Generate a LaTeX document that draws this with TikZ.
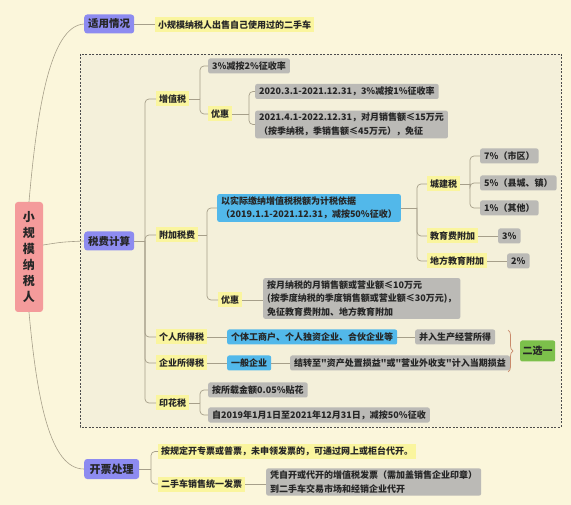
\documentclass[tikz,border=0pt]{standalone}
\usepackage{fontspec}
\setmainfont{Noto Sans CJK SC}[Ligatures=TeXOff]
\usetikzlibrary{decorations.pathreplacing}
\definecolor{bgc}{HTML}{FBF6DB}
\definecolor{framefill}{HTML}{F4F0DA}
\definecolor{yel}{HTML}{FAF59E}
\definecolor{gry}{HTML}{BBBAB6}
\definecolor{blu}{HTML}{52B8EA}
\definecolor{pur}{HTML}{8D8BF0}
\definecolor{pnk}{HTML}{F49B9B}
\definecolor{grn}{HTML}{7CC04B}
\definecolor{linec}{HTML}{A69F8A}
\definecolor{bracec}{HTML}{C98A6B}
\tikzset{
  conn/.style={draw=linec, line width=0.7pt, rounded corners=4pt},
  curv/.style={draw=linec, line width=0.6pt},
  base/.style={font=\bfseries\fontsize{9}{13.5}\selectfont, text=black!85, inner ysep=2.5pt, minimum height=15pt, anchor=west, align=left},
  yel/.style={base, fill=yel, inner xsep=3pt},
  gry/.style={base, fill=gry, rounded corners=2pt, inner xsep=4pt},
  blu/.style={base, fill=blu, rounded corners=2pt, inner xsep=4pt},
  lvl/.style={fill=pur, rounded corners=3pt, font=\bfseries\fontsize{10.5}{12}\selectfont, text=black!85, minimum height=19pt, minimum width=50pt, inner xsep=3pt, anchor=west},
}
\begin{document}
\begin{tikzpicture}[x=1pt,y=-1pt]
\fill[bgc] (0,0) rectangle (571,505);
\useasboundingbox (0,0) rectangle (571,505);
\draw[dashed, fill=framefill, draw=black!70, line width=0.6pt, dash pattern=on 2pt off 1.5pt] (80,54) rectangle (561,427);

% root
\node[fill=pnk, rounded corners=3pt, minimum width=28pt, minimum height=110pt, inner sep=0pt,
  font=\bfseries\fontsize{12}{16}\selectfont, align=center, text=black!85] (root) at (29,257) {小\\规\\模\\纳\\税\\人};

% level 1
\node[lvl] (sy) at (84,24) {适用情况};
\node[lvl] (sf) at (84,241) {税费计算};
\node[lvl, minimum width=55pt, minimum height=20pt, font=\bfseries\fontsize{11}{12}\selectfont] (kp) at (84,469) {开票处理};

\draw[curv] (root.north) .. controls (37,110) and (50,26) .. (sy.west);
\draw[curv] (root.south) .. controls (37,400) and (50,469) .. (kp.west);
\draw[curv] ([yshift=12pt]root.east) .. controls (62,242) .. (sf.west);

% 适用情况
\node[yel] (syl) at (155,25) {小规模纳税人出售自己使用过的二手车};
\draw[conn] (sy.east) -- (syl.west |- sy.east);

% 税费计算 trunk
\coordinate (b1) at (145,241);
\node[yel] (zzs) at (156,99) {增值税};
\node[yel] (fj) at (156,235) {附加税费};
\node[yel] (gs) at (156,337) {个人所得税};
\node[yel] (qs) at (156,363) {企业所得税};
\node[yel] (yh) at (156,403) {印花税};
\draw[conn] (sf.east) -- (b1);
\foreach \c in {zzs,fj,gs,qs,yh} \draw[conn] (b1) |- (\c.west);

% 增值税
\coordinate (b2) at (200,99);
\node[gry] (g1) at (208,66) {3\%减按2\%征收率};
\node[yel] (yh1) at (208,114) {优惠};
\draw[conn] (zzs.east) -- (b2);
\foreach \c in {g1,yh1} \draw[conn] (b2) |- (\c.west);
\coordinate (b3) at (249,114);
\node[gry] (g2) at (255,91.5) {2020.3.1-2021.12.31，3\%减按1\%征收率};
\node[gry] (g3) at (255,124.5) {2021.4.1-2022.12.31，对月销售额≤15万元\\（按季纳税，季销售额≤45万元），免征};
\draw[conn] (yh1.east) -- (b3);
\foreach \c in {g2,g3} \draw[conn] (b3) |- (\c.west);

% 附加税费
\coordinate (b4) at (207,235);
\node[blu] (bl1) at (217,208) {以实际缴纳增值税税额为计税依据\\（2019.1.1-2021.12.31，减按50\%征收）};
\node[yel] (yh2) at (218,300) {优惠};
\draw[conn] (fj.east) -- (b4);
\foreach \c in {bl1,yh2} \draw[conn] (b4) |- (\c.west);
\node[gry] (g4) at (263,298.5) {按月纳税的月销售额或营业额≤10万元\\(按季度纳税的季度销售额或营业额≤30万元)，\\免征教育费附加、地方教育附加};
\draw[conn] (yh2.east) -- (g4.west |- yh2.east);

\coordinate (b5) at (417,208);
\node[yel] (cj) at (427,184) {城建税};
\node[yel] (jy) at (427,236) {教育费附加};
\node[yel] (df) at (427,261) {地方教育附加};
\draw[conn] (bl1.east) -- (b5);
\foreach \c in {cj,jy,df} \draw[conn] (b5) |- (\c.west);

\coordinate (b6) at (470,184);
\node[gry] (g5) at (480,156) {7\%（市区）};
\node[gry] (g6) at (480,183) {5\%（县城、镇）};
\node[gry] (g7) at (480,208) {1\%（其他）};
\draw[conn] (cj.east) -- (b6);
\foreach \c in {g5,g6,g7} \draw[conn] (b6) |- (\c.west);
\node[gry] (p3) at (498,236) {3\%};
\node[gry] (p2) at (507,261) {2\%};
\draw[conn] (jy.east) -- (p3.west |- jy.east);
\draw[conn] (df.east) -- (p2.west |- df.east);

% 所得税
\node[blu] (bl2) at (227,337) {个体工商户、个人独资企业、合伙企业等};
\node[gry] (g8) at (415,337) {并入生产经营所得};
\draw[conn] (gs.east) -- (bl2.west);
\draw[conn] (bl2.east) -- (g8.west);
\node[blu] (bl3) at (227,363) {一般企业};
\node[gry] (g9) at (290,363) {结转至"资产处置损益"或"营业外收支"计入当期损益};
\draw[conn] (qs.east) -- (bl3.west);
\draw[conn] (bl3.east) -- (g9.west);
\coordinate (brt) at (508,330);
\coordinate (brb) at (508,372);
\draw[bracec, line width=0.7pt, decorate, decoration={brace, amplitude=5pt}] (brt) -- (brb);
\node[base, fill=grn, rounded corners=2pt, minimum height=21pt, inner xsep=2.5pt, font=\bfseries\fontsize{10}{12}\selectfont] (ex) at (520,351) {二选一};

% 印花税
\coordinate (b7) at (200,403);
\node[gry] (g10) at (208,390) {按所载金额0.05\%贴花};
\node[gry] (g11) at (208,415) {自2019年1月1日至2021年12月31日，减按50\%征收};
\draw[conn] (yh.east) -- (b7);
\foreach \c in {g10,g11} \draw[conn] (b7) |- (\c.west);

% 开票处理
\coordinate (b8) at (151,469);
\node[yel] (k1) at (158,451.5) {按规定开专票或普票，未申领发票的，可通过网上或柜台代开。};
\node[yel] (k2) at (158,484) {二手车销售统一发票};
\draw[conn] (kp.east) -- (b8);
\foreach \c in {k1,k2} \draw[conn] (b8) |- (\c.west);
\node[gry] (g12) at (266,482) {凭自开或代开的增值税发票（需加盖销售企业印章）\\到二手车交易市场和经销企业代开};
\draw[conn] (k2.east) -- (g12.west |- k2.east);
\end{tikzpicture}
\end{document}
